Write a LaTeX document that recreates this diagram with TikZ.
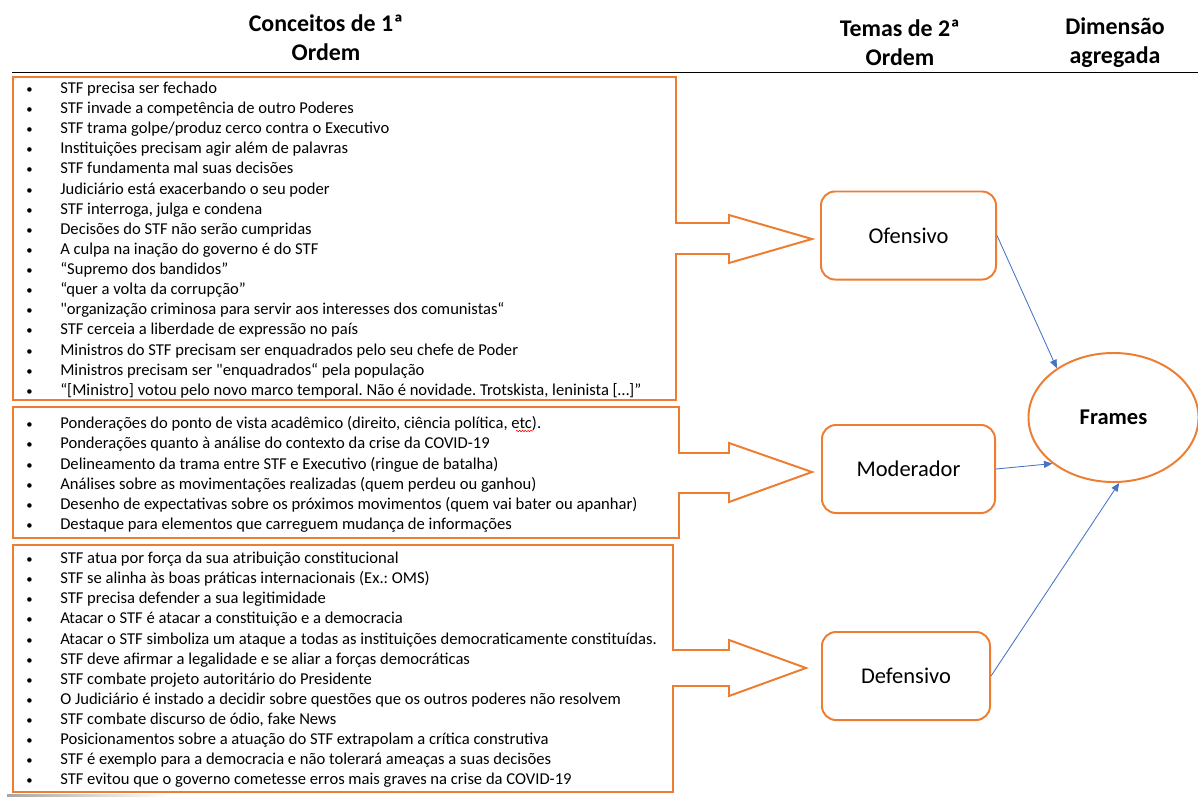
\documentclass[tikz,border=0pt]{standalone}
\usepackage{fontspec}
\setmainfont{Carlito}[Ligatures=TeXOff]
\frenchspacing
\usetikzlibrary{positioning, shapes.geometric, arrows.meta, decorations.pathmorphing}
\definecolor{laranja}{HTML}{ED7D31}
\definecolor{azul}{HTML}{4472C4}

\begin{document}
\begin{tikzpicture}[x=0.025cm, y=-0.025cm,
  cab/.style={font=\fontsize{17}{20.6}\selectfont\bfseries, align=center},
  item/.style={anchor=base west, inner sep=0pt, font=\fontsize{11.8}{14}\selectfont,
    execute at begin node={\llap{{\fontsize{9}{9}\selectfont\textbullet}\hspace{0.69cm}}}},
  contorno/.style={draw=laranja, line width=1.4pt, line join=miter},
  tema/.style={draw=laranja, line width=1.4pt, rounded corners=0.35cm,
    font=\fontsize{16}{19}\selectfont, minimum height=2.2cm},
  liga/.style={draw=azul, line width=0.6pt, -{Triangle[length=6pt, width=5pt]}}
]
			\useasboundingbox (0,0) rectangle (1198,797);

			\node[cab] (hConceitos) at (326,38) {Conceitos de 1ª\\Ordem};
			\node[cab] (hTemas) at (900,43) {Temas de 2ª\\Ordem};
			\node[cab] (hDimensao) at (1115,43) {Dimensão\\agregada};
			\draw[line width=1.4pt] (12,72.5) -- (1198,72.5);

			\draw[contorno] (13,77) -- (676,77) -- (676,223) -- (729,223) -- (729,215) -- (812,239)
				-- (729,263) -- (729,254) -- (676,254) -- (676,400) -- (13,400) -- cycle;
			\draw[contorno] (13,407) -- (679,407) -- (679,453) -- (729,453) -- (729,443) -- (812,472)
				-- (729,502) -- (729,493) -- (679,493) -- (679,538) -- (13,538) -- cycle;
			\draw[contorno] (13,545) -- (673,545) -- (673,650) -- (729,650) -- (729,640) -- (806,668)
				-- (729,696) -- (729,686) -- (673,686) -- (673,792) -- (13,792) -- cycle;

			\node[item] (ofe1) at (60,93) {STF precisa ser fechado};
			\node[item] (ofe2) at (60,113) {STF invade a competência de outro Poderes};
			\node[item] (ofe3) at (60,133) {STF trama golpe/produz cerco contra o Executivo};
			\node[item] (ofe4) at (60,153) {Instituições precisam agir além de palavras};
			\node[item] (ofe5) at (60,173) {STF fundamenta mal suas decisões};
			\node[item] (ofe6) at (60,194) {Judiciário está exacerbando o seu poder};
			\node[item] (ofe7) at (60,214) {STF interroga, julga e condena};
			\node[item] (ofe8) at (60,234) {Decisões do STF não serão cumpridas};
			\node[item] (ofe9) at (60,254) {A culpa na inação do governo é do STF};
			\node[item] (ofe10) at (60,274) {“Supremo dos bandidos”};
			\node[item] (ofe11) at (60,294) {“quer a volta da corrupção”};
			\node[item] (ofe12) at (60,314) {"organização criminosa para servir aos interesses dos comunistas“};
			\node[item] (ofe13) at (60,334) {STF cerceia a liberdade de expressão no país};
			\node[item] (ofe14) at (60,355) {Ministros do STF precisam ser enquadrados pelo seu chefe de Poder};
			\node[item] (ofe15) at (60,375) {Ministros precisam ser "enquadrados“ pela população};
			\node[item] (ofe16) at (60,395) {“[Ministro] votou pelo novo marco temporal. Não é novidade. Trotskista, leninista […]”};

			\node[item] (mod1) at (60,428) {Ponderações do ponto de vista acadêmico (direito, ciência política, etc).};
			\node[item] (mod2) at (60,448) {Ponderações quanto à análise do contexto da crise da COVID-19};
			\node[item] (mod3) at (60,469) {Delineamento da trama entre STF e Executivo (ringue de batalha)};
			\node[item] (mod4) at (60,489) {Análises sobre as movimentações realizadas (quem perdeu ou ganhou)};
			\node[item] (mod5) at (60,509) {Desenho de expectativas sobre os próximos movimentos (quem vai bater ou apanhar)};
			\node[item] (mod6) at (60,529) {Destaque para elementos que carreguem mudança de informações};
			\draw[red, line width=0.4pt, decorate, decoration={snake, amplitude=0.5pt, segment length=2pt}] (516,431) -- (533,431);

			\node[item] (def1) at (60,563) {STF atua por força da sua atribuição constitucional};
			\node[item] (def2) at (60,583) {STF se alinha às boas práticas internacionais (Ex.: OMS)};
			\node[item] (def3) at (60,603) {STF precisa defender a sua legitimidade};
			\node[item] (def4) at (60,623) {Atacar o STF é atacar a constituição e a democracia};
			\node[item] (def5) at (60,644) {Atacar o STF simboliza um ataque a todas as instituições democraticamente constituídas.};
			\node[item] (def6) at (60,664) {STF deve afirmar a legalidade e se aliar a forças democráticas};
			\node[item] (def7) at (60,684) {STF combate projeto autoritário do Presidente};
			\node[item] (def8) at (60,704) {O Judiciário é instado a decidir sobre questões que os outros poderes não resolvem};
			\node[item] (def9) at (60,724) {STF combate discurso de ódio, fake News};
			\node[item] (def10) at (60,744) {Posicionamentos sobre a atuação do STF extrapolam a crítica construtiva};
			\node[item] (def11) at (60,764) {STF é exemplo para a democracia e não tolerará ameaças a suas decisões};
			\node[item] (def12) at (60,784) {STF evitou que o governo cometesse erros mais graves na crise da COVID-19};
			\shade[left color=gray!70, right color=white] (7,794) rectangle (170,796.5);

			\node[tema, minimum width=4.375cm] (ofensivo) at (908.5,235.5) {Ofensivo};
			\node[tema, minimum width=4.325cm] (moderador) at (908.5,469) {Moderador};
			\node[tema, minimum width=4.2cm] (defensivo) at (906,676) {Defensivo};

			\node[ellipse, draw=laranja, line width=1.4pt, minimum width=4.25cm, minimum height=3.225cm,
				font=\fontsize{16}{19}\selectfont\bfseries] (frames) at (1113.5,417.5) {Frames};

			\draw[liga] (ofensivo.east) -- (frames.139);
			\draw[liga] (moderador.east) -- (frames.217);
			\draw[liga] (defensivo.east) -- (frames.275);

		\end{tikzpicture}
\end{document}
